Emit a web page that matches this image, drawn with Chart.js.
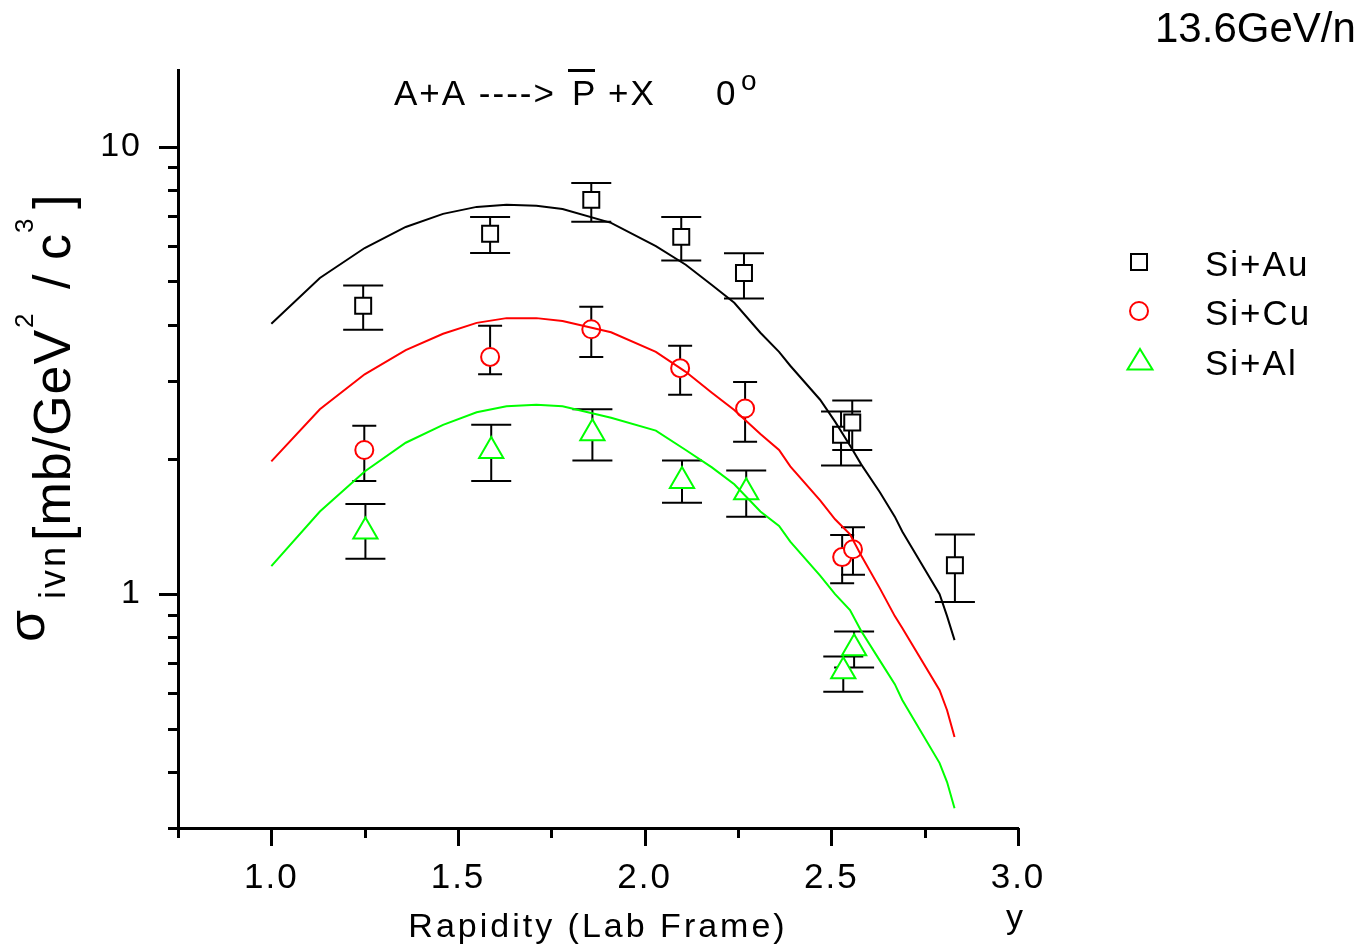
<!DOCTYPE html>
<html>
<head>
<meta charset="utf-8">
<title>Antiproton invariant cross section vs rapidity</title>
<script src="https://cdn.jsdelivr.net/npm/chart.js@4.4.1/dist/chart.umd.min.js"></script>
<style>
  html, body { margin: 0; padding: 0; background: #fff; }
  canvas { display: block; }
</style>
</head>
<body>
<canvas id="yieldChart" width="1370" height="947"></canvas>
<script>
// measured points: rapidity, cross section, upper / lower error limits
const auRap = [1.246, 1.586, 1.857, 2.098, 2.266, 2.526, 2.556, 2.831];
const auSigma = [4.41, 6.39, 7.61, 6.29, 5.22, 2.27, 2.42, 1.16];
const auHi = [4.90, 6.97, 8.30, 6.97, 5.78, 2.56, 2.71, 1.36];
const auLo = [3.90, 5.79, 6.80, 5.57, 4.58, 1.94, 2.10, 0.96];

const cuRap = [1.249, 1.586, 1.857, 2.095, 2.269, 2.529, 2.558];
const cuSigma = [2.10, 3.39, 3.91, 3.20, 2.60, 1.21, 1.26];
const cuHi = [2.38, 3.98, 4.39, 3.59, 2.98, 1.355, 1.41];
const cuLo = [1.79, 3.10, 3.39, 2.79, 2.19, 1.058, 1.105];

const alRap = [1.252, 1.589, 1.860, 2.100, 2.272, 2.532, 2.561];
const alSigma = [1.38, 2.09, 2.29, 1.79, 1.69, 0.672, 0.757];
const alHi = [1.59, 2.39, 2.59, 1.99, 1.89, 0.725, 0.825];
const alLo = [1.20, 1.79, 1.99, 1.60, 1.49, 0.605, 0.685];

// model curves
const modelRap = [1.00, 1.13, 1.25, 1.36, 1.46, 1.55, 1.63, 1.71, 1.78, 1.91, 2.03, 2.11, 2.18, 2.24,
  2.31, 2.36, 2.39, 2.47, 2.51, 2.55, 2.58, 2.63, 2.67, 2.69, 2.79, 2.81, 2.83];
const modelAu = [4.02, 5.09, 5.94, 6.62, 7.08, 7.34, 7.42, 7.38, 7.26, 6.76, 6.00, 5.45, 4.91, 4.48,
  3.84, 3.48, 3.24, 2.72, 2.43, 2.15, 1.95, 1.69, 1.49, 1.38, 1.00, 0.893, 0.789];
const modelCu = [1.98, 2.59, 3.10, 3.51, 3.82, 4.04, 4.14, 4.14, 4.08, 3.85, 3.48, 3.14, 2.82, 2.58,
  2.28, 2.10, 1.93, 1.62, 1.47, 1.36, 1.22, 1.03, 0.893, 0.84, 0.61, 0.55, 0.479];
const modelAl = [1.155, 1.53, 1.88, 2.18, 2.39, 2.55, 2.63, 2.65, 2.63, 2.48, 2.32, 2.10, 1.92, 1.76,
  1.53, 1.42, 1.31, 1.10, 1.00, 0.921, 0.827, 0.71, 0.629, 0.58, 0.419, 0.380, 0.332];

// axis ticks
const xTicks = [0.75, 1.0, 1.25, 1.5, 1.75, 2.0, 2.25, 2.5, 2.75, 3.0];
const xLabeled = [1.0, 1.5, 2.0, 2.5, 3.0];
const yTicks = [0.3, 0.4, 0.5, 0.6, 0.7, 0.8, 0.9, 1, 2, 3, 4, 5, 6, 7, 8, 9, 10];
const yLabeled = [1, 10];

const FONT = '"Liberation Sans", Arial, Helvetica, sans-serif';
const pairs = (xs, ys) => xs.map((x, i) => ({ x: x, y: ys[i] }));

function text(ctx, s, x, y, size, spacing, align) {
  ctx.font = size + 'px ' + FONT;
  ctx.letterSpacing = (spacing || 0) + 'px';
  ctx.textAlign = align || 'left';
  ctx.textBaseline = 'alphabetic';
  ctx.fillStyle = '#000';
  ctx.fillText(s, x, y);
}

// white page + spacing for the library's tick labels
const background = {
  id: 'background',
  beforeDraw(chart) {
    const ctx = chart.ctx;
    ctx.save();
    ctx.fillStyle = '#fff';
    ctx.fillRect(0, 0, chart.width, chart.height);
    ctx.restore();
    ctx.letterSpacing = '2px';
  }
};

// vertical error bars with caps, drawn under the markers
const errorBars = {
  id: 'errorBars',
  beforeDatasetsDraw(chart) {
    const ctx = chart.ctx;
    const xs = chart.scales.x, ys = chart.scales.y;
    ctx.save();
    ctx.strokeStyle = '#000';
    ctx.lineWidth = 2;
    chart.data.datasets.forEach(ds => {
      if (!ds.errHi) return;
      ds.data.forEach((p, i) => {
        const px = xs.getPixelForValue(p.x);
        const top = ys.getPixelForValue(ds.errHi[i]);
        const bot = ys.getPixelForValue(ds.errLo[i]);
        const w = ds.capHalf;
        ctx.beginPath();
        ctx.moveTo(px, top); ctx.lineTo(px, bot);
        ctx.moveTo(px - w, top); ctx.lineTo(px + w, top);
        ctx.moveTo(px - w, bot); ctx.lineTo(px + w, bot);
        ctx.stroke();
      });
    });
    ctx.restore();
  }
};

// outward tick marks, long at labelled values
const tickMarks = {
  id: 'tickMarks',
  afterDraw(chart) {
    const ctx = chart.ctx;
    const area = chart.chartArea;
    const xs = chart.scales.x, ys = chart.scales.y;
    ctx.save();
    ctx.strokeStyle = '#000';
    ctx.lineWidth = 3;
    ctx.beginPath();
    yTicks.forEach(v => {
      const py = Math.round(ys.getPixelForValue(v)) + 0.5;
      const len = yLabeled.includes(v) ? 19 : 10;
      ctx.moveTo(area.left - len, py);
      ctx.lineTo(area.left, py);
    });
    xTicks.forEach(v => {
      const px = Math.round(xs.getPixelForValue(v)) + 0.5;
      const len = xLabeled.includes(v) ? 18 : 10;
      ctx.moveTo(px, area.bottom);
      ctx.lineTo(px, area.bottom + len);
    });
    ctx.stroke();
    ctx.restore();
  }
};

// titles, axis names and the legend
const annotations = {
  id: 'annotations',
  afterDraw(chart) {
    const ctx = chart.ctx;
    ctx.save();

    text(ctx, 'A+A ---->', 394, 105, 35, 2);
    text(ctx, 'P', 572, 105, 35, 0);
    ctx.fillRect(568, 69, 27, 3);
    text(ctx, '+X', 608, 105, 35, 2);
    text(ctx, '0', 716, 105, 35, 0);
    text(ctx, 'o', 741, 90, 28, 0);

    text(ctx, '13.6GeV/n', 1155, 42, 42, 0);

    text(ctx, 'Rapidity (Lab Frame)', 598, 937, 34, 3, 'center');
    text(ctx, 'y', 1006, 928, 34, 0);

    // rotated y title: (u, v) in the rotated frame lands at canvas (v, -u)
    ctx.save();
    ctx.rotate(-Math.PI / 2);
    text(ctx, 'σ', -642, 44, 52, 0);
    text(ctx, 'ivn', -599, 65, 36, 3);
    text(ctx, '[mb/GeV', -541, 70, 52, 1);
    text(ctx, '2', -328, 33, 26, 0);
    text(ctx, '/', -289, 70, 52, 0);
    text(ctx, 'c', -260, 70, 52, 0);
    text(ctx, '3', -233, 33, 26, 0);
    text(ctx, ']', -209, 70, 52, 0);
    ctx.restore();

    // legend
    ctx.lineWidth = 2;
    ctx.strokeStyle = '#000';
    ctx.strokeRect(1131, 254, 16, 16);
    ctx.strokeStyle = '#ff0000';
    ctx.beginPath();
    ctx.arc(1139, 311, 9, 0, Math.PI * 2);
    ctx.stroke();
    ctx.strokeStyle = '#00ff00';
    ctx.beginPath();
    ctx.moveTo(1140, 349);
    ctx.lineTo(1152.5, 369.5);
    ctx.lineTo(1127.5, 369.5);
    ctx.closePath();
    ctx.stroke();

    text(ctx, 'Si+Au', 1205, 276, 35, 2);
    text(ctx, 'Si+Cu', 1205, 325, 35, 2);
    text(ctx, 'Si+Al', 1205, 375, 35, 2);

    ctx.restore();
  }
};

function curve(label, ys, color) {
  return {
    label: label,
    data: pairs(modelRap, ys),
    showLine: true,
    borderColor: color,
    borderWidth: 2,
    pointRadius: 0,
    tension: 0,
    order: 0
  };
}

function measured(label, xs, ys, hi, lo, style, radius, color, capHalf) {
  return {
    label: label,
    data: pairs(xs, ys),
    showLine: false,
    pointStyle: style,
    pointRadius: radius,
    pointBorderWidth: 2,
    pointBorderColor: color,
    pointBackgroundColor: '#fff',
    errHi: hi,
    errLo: lo,
    capHalf: capHalf,
    order: 1
  };
}

const ctx = document.getElementById('yieldChart').getContext('2d');
new Chart(ctx, {
  type: 'scatter',
  data: {
    datasets: [
      curve('Si+Au model', modelAu, '#000000'),
      curve('Si+Cu model', modelCu, '#ff0000'),
      curve('Si+Al model', modelAl, '#00ff00'),
      measured('Si+Au', auRap, auSigma, auHi, auLo, 'rect', 11.3, '#000000', 20),
      measured('Si+Cu', cuRap, cuSigma, cuHi, cuLo, 'circle', 9, '#ff0000', 12),
      measured('Si+Al', alRap, alSigma, alHi, alLo, 'triangle', 14, '#00ff00', 20)
    ]
  },
  options: {
    responsive: false,
    animation: false,
    devicePixelRatio: 1,
    layout: { padding: { left: 0, top: 70, right: 352, bottom: 0 } },
    plugins: {
      legend: { display: false },
      tooltip: { enabled: false },
      title: { display: false }
    },
    scales: {
      x: {
        type: 'linear',
        min: 0.75,
        max: 3.0,
        afterBuildTicks: axis => { axis.ticks = xTicks.map(v => ({ value: v })); },
        afterFit: axis => { axis.height = 119; },
        grid: { display: false },
        border: { display: true, width: 3, color: '#000' },
        ticks: {
          autoSkip: false,
          maxRotation: 0,
          padding: 21,
          color: '#000',
          font: { family: FONT, size: 35 },
          callback: v => xLabeled.includes(v) ? v.toFixed(1) : ''
        }
      },
      y: {
        type: 'logarithmic',
        min: 0.3,
        max: 14.85,
        afterBuildTicks: axis => { axis.ticks = yTicks.map(v => ({ value: v })); },
        afterFit: axis => { axis.width = 178; },
        grid: { display: false },
        border: { display: true, width: 3, color: '#000' },
        ticks: {
          autoSkip: false,
          padding: 28,
          color: '#000',
          font: { family: FONT, size: 34 },
          callback: v => yLabeled.includes(v) ? String(v) : ''
        }
      }
    }
  },
  plugins: [background, errorBars, tickMarks, annotations]
});
</script>
</body>
</html>
